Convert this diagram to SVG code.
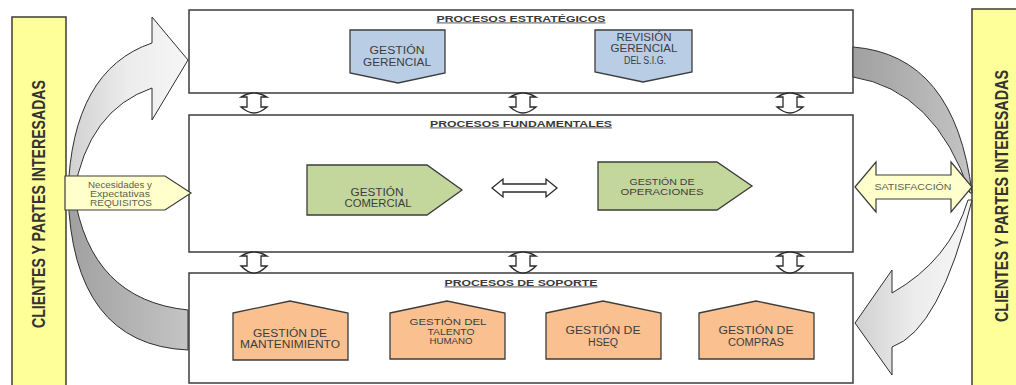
<svg xmlns="http://www.w3.org/2000/svg" width="1016" height="385" viewBox="0 0 1016 385">
<defs>
<style>
.box{fill:#ffffff;stroke:#3c3c3c;stroke-width:1.5}
.bar{fill:#ffff99;stroke:#3c3c3c;stroke-width:1.5}
.bartxt{font-family:"Liberation Sans",Arial,sans-serif;font-weight:bold;font-size:18px;fill:#333333}
.title{font-family:"Liberation Sans",Arial,sans-serif;font-weight:bold;font-size:8.5px;fill:#3a3a3a;text-decoration:underline}
.lbl{font-family:"Liberation Sans",Arial,sans-serif;font-size:10px;fill:#3d3d3d;text-anchor:middle}
.lbs{font-family:"Liberation Sans",Arial,sans-serif;font-size:8.5px;fill:#3d3d3d;text-anchor:middle}
.small{font-family:"Liberation Sans",Arial,sans-serif;font-size:8.5px;fill:#5f5f50;text-anchor:middle}
.blue{fill:#b9cde5;stroke:#3c3c3c;stroke-width:1.3}
.green{fill:#c3d69b;stroke:#3c3c3c;stroke-width:1.3}
.orange{fill:#fac08f;stroke:#3c3c3c;stroke-width:1.3}
.cream{fill:#ffffcc;stroke:#3c3c3c;stroke-width:1.2}
.link{fill:#ffffff;stroke:#2a2a2a;stroke-width:1.3}
.lightArrow{fill:url(#gLight);stroke:#2f2f2f;stroke-width:1}
.darkBand{fill:url(#gDark);stroke:#2f2f2f;stroke-width:1}
</style>
<linearGradient id="gLight" x1="0" y1="0" x2="1" y2="0">
<stop offset="0" stop-color="#d0d0d0"/>
<stop offset="0.5" stop-color="#ececec"/>
<stop offset="1" stop-color="#f6f6f6"/>
</linearGradient>
<linearGradient id="gDark" x1="0" y1="0" x2="1" y2="0">
<stop offset="0" stop-color="#a0a0a0"/>
<stop offset="1" stop-color="#c4c4c4"/>
</linearGradient>
</defs>
<rect x="0" y="0" width="1016" height="385" fill="#ffffff"/>

<g id="bar-left">
<rect class="bar" x="12" y="17" width="54" height="372"/>
<text class="bartxt" transform="translate(45,204) rotate(-90)" text-anchor="middle" textLength="248" lengthAdjust="spacingAndGlyphs">CLIENTES Y PARTES INTERESADAS</text>
</g>
<g id="bar-right">
<rect class="bar" x="972" y="9" width="50" height="380"/>
<text class="bartxt" transform="translate(1008,196) rotate(-90)" text-anchor="middle" textLength="252" lengthAdjust="spacingAndGlyphs">CLIENTES Y PARTES INTERESADAS</text>
</g>

<g id="box-estrategicos">
<rect class="box" x="189" y="10" width="664" height="83"/>
<text class="title" x="521" y="21.5" text-anchor="middle" textLength="169" lengthAdjust="spacingAndGlyphs">PROCESOS ESTRATÉGICOS</text>
</g>
<g id="box-fundamentales">
<rect class="box" x="189" y="115" width="664" height="137"/>
<text class="title" x="521" y="126.5" text-anchor="middle" textLength="182" lengthAdjust="spacingAndGlyphs">PROCESOS FUNDAMENTALES</text>
</g>
<g id="box-soporte">
<rect class="box" x="189" y="273" width="664" height="110"/>
<text class="title" x="521" y="285.5" text-anchor="middle" textLength="153" lengthAdjust="spacingAndGlyphs">PROCESOS DE SOPORTE</text>
</g>

<g id="connectors">
<path class="darkBand" d="M68,193 Q72,345 188,350 L188,310 Q90,300 74,193 Z"/>
<path class="lightArrow" d="M68,193 Q72,70 152,43 L152,17 L188,60 L152,120 L152,88 Q88,110 74,193 Z"/>
<path class="darkBand" d="M853,47 Q955,55 972,193 L970,193 Q935,90 853,77 Z"/>
<path class="lightArrow" d="M972,200 Q940,330 892,347 L892,375 L855,323 L892,270 L892,293 Q950,260 968,200 Z"/>
<path class="link" d="M254,93 Q248,93 241,97 L247,97 L247,107 L241,107 Q248,113 254,113 Q260,113 267,107 L261,107 L261,97 L267,97 Q260,93 254,93 Z"/>
<path class="link" d="M523,93 Q517,93 510,97 L516,97 L516,107 L510,107 Q517,113 523,113 Q529,113 536,107 L530,107 L530,97 L536,97 Q529,93 523,93 Z"/>
<path class="link" d="M790,93 Q784,93 777,97 L783,97 L783,107 L777,107 Q784,113 790,113 Q796,113 803,107 L797,107 L797,97 L803,97 Q796,93 790,93 Z"/>
<path class="link" d="M254,252 Q248,252 241,256 L247,256 L247,266 L241,266 Q248,273 254,273 Q260,273 267,266 L261,266 L261,256 L267,256 Q260,252 254,252 Z"/>
<path class="link" d="M523,252 Q517,252 510,256 L516,256 L516,266 L510,266 Q517,273 523,273 Q529,273 536,266 L530,266 L530,256 L536,256 Q529,252 523,252 Z"/>
<path class="link" d="M790,252 Q784,252 777,256 L783,256 L783,266 L777,266 Q784,273 790,273 Q796,273 803,266 L797,266 L797,256 L803,256 Q796,252 790,252 Z"/>
<path class="link" d="M492,188 L503,179 L503,184 L546,184 L546,179 L557,188 L546,197 L546,192 L503,192 L503,197 Z"/>
</g>

<g id="necesidades">
<path class="cream" d="M65,176 L165,176 L191,193 L165,210 L65,210 Z"/>
<text class="small" x="120" y="187.5" textLength="64" lengthAdjust="spacingAndGlyphs">Necesidades y</text>
<text class="small" x="120" y="196.5" textLength="60" lengthAdjust="spacingAndGlyphs">Expectativas</text>
<text class="small" x="121" y="205.5" textLength="62" lengthAdjust="spacingAndGlyphs">REQUISITOS</text>
</g>

<g id="satisfaccion">
<path class="cream" d="M855,187 L876,162 L876,175 L951,175 L951,162 L972,187 L951,212 L951,199 L876,199 L876,212 Z"/>
<text class="small" x="913" y="190" textLength="77" lengthAdjust="spacingAndGlyphs">SATISFACCIÓN</text>
</g>

<g id="gestion-gerencial">
<path class="blue" d="M350,30 H445 V73 L398,83 L350,73 Z"/>
<text class="lbl" x="397" y="53.5" textLength="55" lengthAdjust="spacingAndGlyphs">GESTIÓN</text>
<text class="lbl" x="397" y="65.5" textLength="68" lengthAdjust="spacingAndGlyphs">GERENCIAL</text>
</g>
<g id="revision-gerencial">
<path class="blue" d="M595,30 H692 V72 L643,82 L595,72 Z"/>
<text class="lbl" x="644" y="40.5" textLength="55" lengthAdjust="spacingAndGlyphs">REVISIÓN</text>
<text class="lbl" x="644" y="52" textLength="67" lengthAdjust="spacingAndGlyphs">GERENCIAL</text>
<text class="lbl" x="645" y="63.5" textLength="42" lengthAdjust="spacingAndGlyphs">DEL S.I.G.</text>
</g>

<g id="gestion-comercial">
<path class="green" d="M307,165 H427 L462,190 L427,215 H307 Z"/>
<text class="lbl" x="377" y="195.5" textLength="53" lengthAdjust="spacingAndGlyphs">GESTIÓN</text>
<text class="lbl" x="378" y="207" textLength="67" lengthAdjust="spacingAndGlyphs">COMERCIAL</text>
</g>
<g id="gestion-operaciones">
<path class="green" d="M598,162 H717 L752,186 L717,210 H598 Z"/>
<text class="lbs" x="662" y="185" textLength="65" lengthAdjust="spacingAndGlyphs">GESTIÓN DE</text>
<text class="lbs" x="662" y="195" textLength="83" lengthAdjust="spacingAndGlyphs">OPERACIONES</text>
</g>

<g id="gestion-mantenimiento">
<path class="orange" d="M233,313 L290,301 L348,313 V360 H233 Z"/>
<text class="lbl" x="290" y="337" textLength="74" lengthAdjust="spacingAndGlyphs">GESTIÓN DE</text>
<text class="lbl" x="290" y="348" textLength="100" lengthAdjust="spacingAndGlyphs">MANTENIMIENTO</text>
</g>
<g id="gestion-talento">
<path class="orange" d="M390,313 L447,301 L505,313 V359 H390 Z"/>
<text class="lbs" x="448" y="325" textLength="77" lengthAdjust="spacingAndGlyphs">GESTIÓN DEL</text>
<text class="lbs" x="451" y="334.5" textLength="47" lengthAdjust="spacingAndGlyphs">TALENTO</text>
<text class="lbs" x="451" y="344" textLength="43" lengthAdjust="spacingAndGlyphs">HUMANO</text>
</g>
<g id="gestion-hseq">
<path class="orange" d="M546,313 L603,301 L661,313 V359 H546 Z"/>
<text class="lbl" x="603" y="334" textLength="75" lengthAdjust="spacingAndGlyphs">GESTIÓN DE</text>
<text class="lbl" x="603" y="345.5" textLength="30" lengthAdjust="spacingAndGlyphs">HSEQ</text>
</g>
<g id="gestion-compras">
<path class="orange" d="M699,313 L756,301 L814,313 V359 H699 Z"/>
<text class="lbl" x="756" y="334" textLength="75" lengthAdjust="spacingAndGlyphs">GESTIÓN DE</text>
<text class="lbl" x="756" y="345.5" textLength="56" lengthAdjust="spacingAndGlyphs">COMPRAS</text>
</g>
</svg>
